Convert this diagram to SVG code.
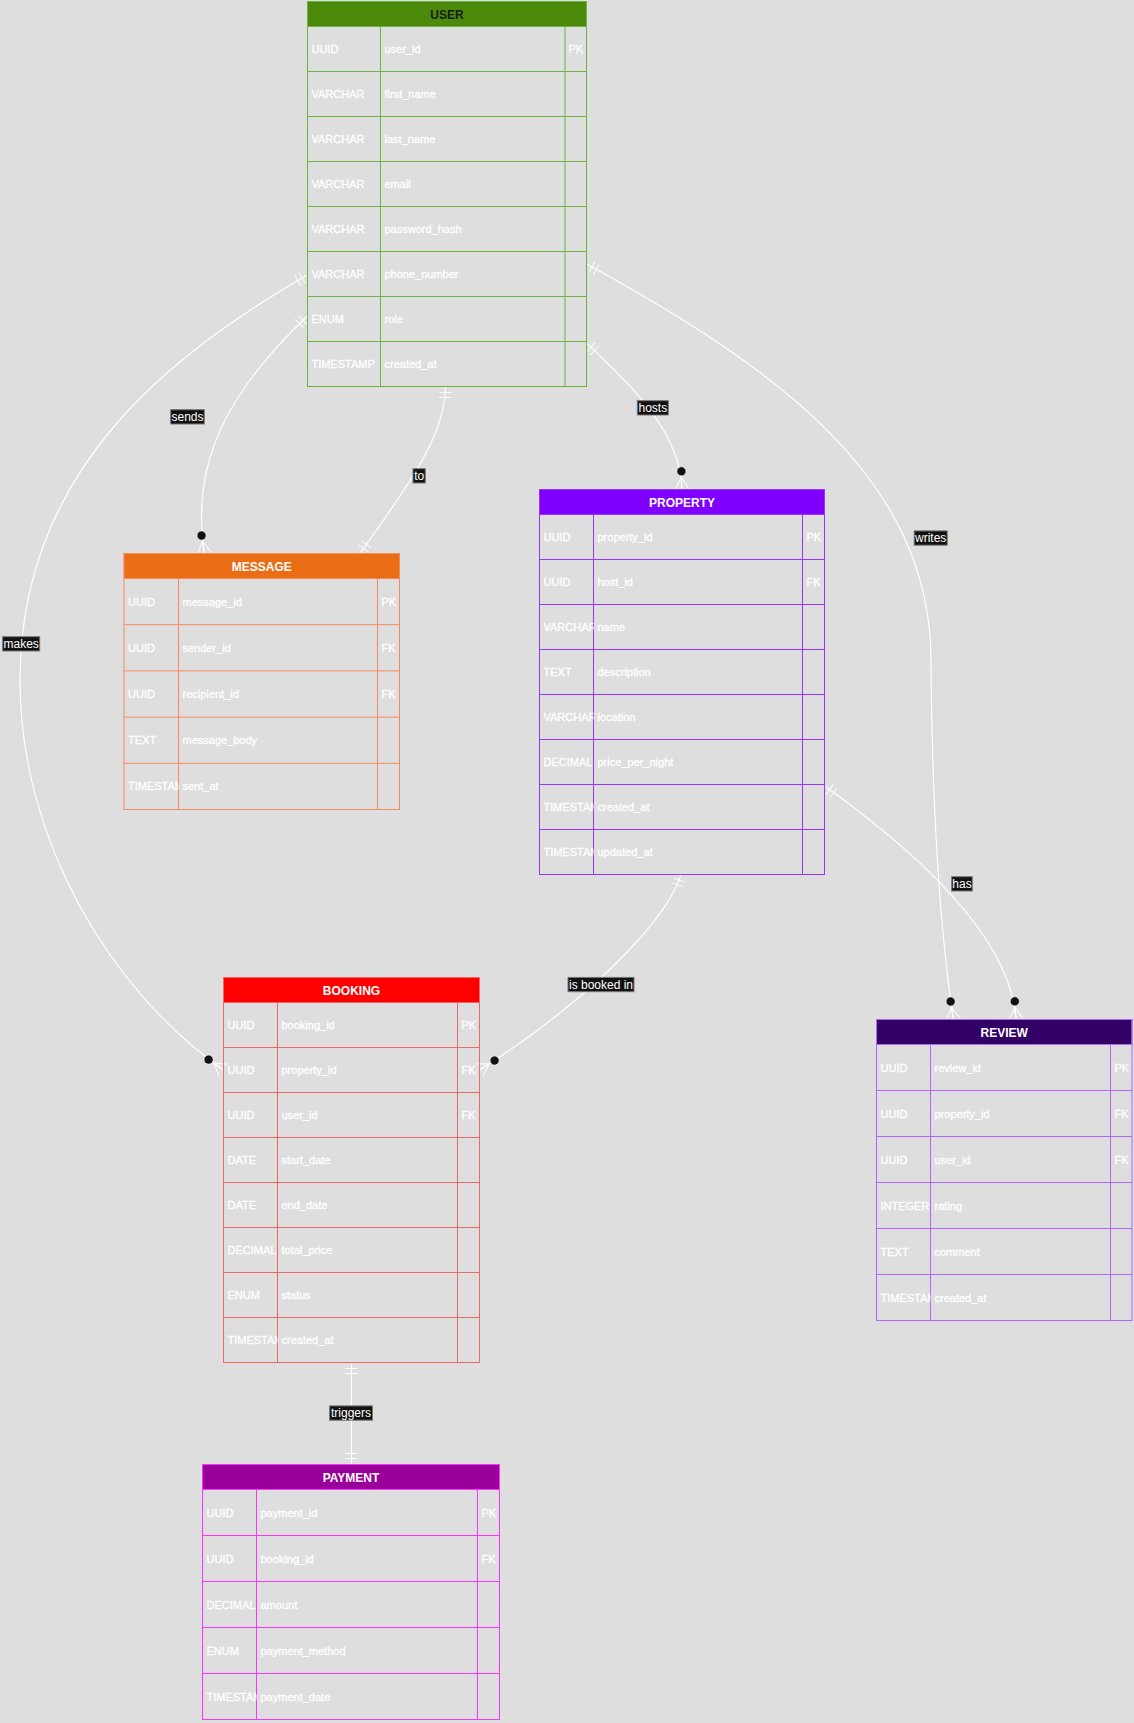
<svg xmlns="http://www.w3.org/2000/svg" width="1134" height="1723" viewBox="0 0 1134 1723">
<style>
.t{font-family:"Liberation Sans",Arial,sans-serif;font-size:11px;fill:#ffffff;stroke:#ffffff;stroke-width:0.3}
.h{font-family:"Liberation Sans",Arial,sans-serif;font-size:12px;font-weight:bold;fill:#ffffff;text-anchor:middle}
.lbl{font-family:"Liberation Sans",Arial,sans-serif;font-size:12px;fill:#ffffff;text-anchor:middle}
.lb{fill:#111111;stroke:#777777;stroke-width:1}
.edge{fill:none;stroke:#ffffff;stroke-width:1.2}
.box{fill:none;stroke-width:1}
</style>
<defs>
<marker id="one" viewBox="-20 -10 24 20" refX="0" refY="0" markerWidth="24" markerHeight="20" markerUnits="userSpaceOnUse" orient="auto-start-reverse" overflow="visible">
<path d="M-6,-6 L-6,6 M-11,-6 L-11,6" stroke="#ffffff" stroke-width="1" fill="none"/>
</marker>
<marker id="zm" viewBox="-26 -10 28 20" refX="0" refY="0" markerWidth="28" markerHeight="20" markerUnits="userSpaceOnUse" orient="auto" overflow="visible">
<circle cx="-18" cy="0" r="4.5" fill="#111111" stroke="#ffffff" stroke-width="0.5"/>
<path d="M-12,0 L0,-7 M-12,0 L0,0 M-12,0 L0,7" stroke="#ffffff" stroke-width="1" fill="none"/>
</marker>
<clipPath id="cU"><rect x="0" y="0" width="73" height="385"/></clipPath>
<clipPath id="cM"><rect x="0" y="0" width="54.5" height="256"/></clipPath>
<clipPath id="cP"><rect x="0" y="0" width="54" height="385"/></clipPath>
<clipPath id="cB"><rect x="0" y="0" width="54" height="385"/></clipPath>
<clipPath id="cR"><rect x="0" y="0" width="54" height="301"/></clipPath>
<clipPath id="cY"><rect x="0" y="0" width="54" height="255"/></clipPath>
</defs>
<rect x="0" y="0" width="1134" height="1723" fill="#dedede"/>

<g id="connectors">
<path id="e-makes" class="edge" d="M307.3,275 C170,355 20,470 20,680 C20,840 110,990 223.3,1070" marker-start="url(#one)" marker-end="url(#zm)"/>
<path id="e-sends" class="edge" d="M307.3,316 C230,390 190,460 204.3,553.3" marker-start="url(#one)" marker-end="url(#zm)"/>
<path id="e-to" class="edge" d="M445.5,386.5 C445,430 420,470 360,553.3" marker-start="url(#one)" marker-end="url(#one)"/>
<path id="e-hosts" class="edge" d="M586.7,343 C630,385 680,430 682,489.3" marker-start="url(#one)" marker-end="url(#zm)"/>
<path id="e-writes" class="edge" d="M586.7,264 C780,370 930,480 931,659 C932,800 940,930 953.3,1019.3" marker-start="url(#one)" marker-end="url(#zm)"/>
<path id="e-has" class="edge" d="M824.7,786 C900,840 1010,930 1016,1019.3" marker-start="url(#one)" marker-end="url(#zm)"/>
<path id="e-booked" class="edge" d="M681.3,874.5 C660,935 560,1020 479.3,1070" marker-start="url(#one)" marker-end="url(#zm)"/>
<path id="e-triggers" class="edge" d="M351.5,1362.5 L351.5,1464.5" marker-start="url(#one)" marker-end="url(#one)"/>
<g id="labels">
<rect class="lb" x="2.7" y="636.7" width="37" height="14.3"/><text class="lbl" x="21.2" y="648.2">makes</text>
<rect class="lb" x="170.7" y="409.7" width="33.6" height="14.3"/><text class="lbl" x="187.5" y="421.2">sends</text>
<rect class="lb" x="413" y="468.7" width="12.3" height="14.3"/><text class="lbl" x="419.2" y="480.2">to</text>
<rect class="lb" x="637.3" y="400.7" width="31" height="14.3"/><text class="lbl" x="652.8" y="412.2">hosts</text>
<rect class="lb" x="914.2" y="530.9" width="33" height="14.3"/><text class="lbl" x="930.7" y="542.4">writes</text>
<rect class="lb" x="951.7" y="876.7" width="20.6" height="14.3"/><text class="lbl" x="962" y="888.2">has</text>
<rect class="lb" x="568" y="977.4" width="66" height="14.3"/><text class="lbl" x="601" y="988.9">is booked in</text>
<rect class="lb" x="329.6" y="1405.9" width="42.9" height="14.3"/><text class="lbl" x="351" y="1417.4">triggers</text>
</g>
</g>

<g id="user" transform="translate(307.5,1.5)">
<rect x="0" y="0" width="279" height="25" fill="#4c8a0b" stroke="#6cb33e"/>
<text class="h" x="139.5" y="17" style="fill:#1a1a1a">USER</text>
<rect class="box" x="0" y="0" width="279" height="385" stroke="#6cb33e"/>
<path class="box" stroke="#6cb33e" d="M0,25H279M0,70H279M0,115H279M0,160H279M0,205H279M0,250H279M0,295H279M0,340H279M73,25V385M257.5,25V385"/>
<g clip-path="url(#cU)">
<text class="t" x="4" y="51.5">UUID</text><text class="t" x="4" y="96.5">VARCHAR</text><text class="t" x="4" y="141.5">VARCHAR</text><text class="t" x="4" y="186.5">VARCHAR</text><text class="t" x="4" y="231.5">VARCHAR</text><text class="t" x="4" y="276.5">VARCHAR</text><text class="t" x="4" y="321.5">ENUM</text><text class="t" x="4" y="366.5">TIMESTAMP</text>
</g>
<text class="t" x="77" y="51.5">user_id</text><text class="t" x="77" y="96.5">first_name</text><text class="t" x="77" y="141.5">last_name</text><text class="t" x="77" y="186.5">email</text><text class="t" x="77" y="231.5">password_hash</text><text class="t" x="77" y="276.5">phone_number</text><text class="t" x="77" y="321.5">role</text><text class="t" x="77" y="366.5">created_at</text>
<text class="t" x="261" y="51.5">PK</text>
</g>

<g id="message" transform="translate(124,553.5)">
<rect x="0" y="0" width="275.5" height="25" fill="#ea6c14" stroke="#f68a5c"/>
<text class="h" x="137.75" y="17">MESSAGE</text>
<rect class="box" x="0" y="0" width="275.5" height="256" stroke="#f68a5c"/>
<path class="box" stroke="#f68a5c" d="M0,25H275.5M0,71.2H275.5M0,117.4H275.5M0,163.6H275.5M0,209.8H275.5M54.5,25V256M253.5,25V256"/>
<g clip-path="url(#cM)">
<text class="t" x="4" y="52.1">UUID</text><text class="t" x="4" y="98.3">UUID</text><text class="t" x="4" y="144.5">UUID</text><text class="t" x="4" y="190.7">TEXT</text><text class="t" x="4" y="236.9">TIMESTAMP</text>
</g>
<text class="t" x="58.5" y="52.1">message_id</text><text class="t" x="58.5" y="98.3">sender_id</text><text class="t" x="58.5" y="144.5">recipient_id</text><text class="t" x="58.5" y="190.7">message_body</text><text class="t" x="58.5" y="236.9">sent_at</text>
<text class="t" x="257.5" y="52.1">PK</text><text class="t" x="257.5" y="98.3">FK</text><text class="t" x="257.5" y="144.5">FK</text>
</g>

<g id="property" transform="translate(539.5,489.5)">
<rect x="0" y="0" width="285" height="25" fill="#8000ff" stroke="#9933ff"/>
<text class="h" x="142.5" y="17">PROPERTY</text>
<rect class="box" x="0" y="0" width="285" height="385" stroke="#9933ff"/>
<path class="box" stroke="#9933ff" d="M0,25H285M0,70H285M0,115H285M0,160H285M0,205H285M0,250H285M0,295H285M0,340H285M54,25V385M263,25V385"/>
<g clip-path="url(#cP)">
<text class="t" x="4" y="51.5">UUID</text><text class="t" x="4" y="96.5">UUID</text><text class="t" x="4" y="141.5">VARCHAR</text><text class="t" x="4" y="186.5">TEXT</text><text class="t" x="4" y="231.5">VARCHAR</text><text class="t" x="4" y="276.5">DECIMAL</text><text class="t" x="4" y="321.5">TIMESTAMP</text><text class="t" x="4" y="366.5">TIMESTAMP</text>
</g>
<text class="t" x="58" y="51.5">property_id</text><text class="t" x="58" y="96.5">host_id</text><text class="t" x="58" y="141.5">name</text><text class="t" x="58" y="186.5">description</text><text class="t" x="58" y="231.5">location</text><text class="t" x="58" y="276.5">price_per_night</text><text class="t" x="58" y="321.5">created_at</text><text class="t" x="58" y="366.5">updated_at</text>
<text class="t" x="267" y="51.5">PK</text><text class="t" x="267" y="96.5">FK</text>
</g>

<g id="booking" transform="translate(223.5,977.5)">
<rect x="0" y="0" width="256" height="25" fill="#ff0000" stroke="#ee6666"/>
<text class="h" x="128" y="17">BOOKING</text>
<rect class="box" x="0" y="0" width="256" height="385" stroke="#ee6666"/>
<path class="box" stroke="#ee6666" d="M0,25H256M0,70H256M0,115H256M0,160H256M0,205H256M0,250H256M0,295H256M0,340H256M54,25V385M234,25V385"/>
<g clip-path="url(#cB)">
<text class="t" x="4" y="51.5">UUID</text><text class="t" x="4" y="96.5">UUID</text><text class="t" x="4" y="141.5">UUID</text><text class="t" x="4" y="186.5">DATE</text><text class="t" x="4" y="231.5">DATE</text><text class="t" x="4" y="276.5">DECIMAL</text><text class="t" x="4" y="321.5">ENUM</text><text class="t" x="4" y="366.5">TIMESTAMP</text>
</g>
<text class="t" x="58" y="51.5">booking_id</text><text class="t" x="58" y="96.5">property_id</text><text class="t" x="58" y="141.5">user_id</text><text class="t" x="58" y="186.5">start_date</text><text class="t" x="58" y="231.5">end_date</text><text class="t" x="58" y="276.5">total_price</text><text class="t" x="58" y="321.5">status</text><text class="t" x="58" y="366.5">created_at</text>
<text class="t" x="238" y="51.5">PK</text><text class="t" x="238" y="96.5">FK</text><text class="t" x="238" y="141.5">FK</text>
</g>

<g id="review" transform="translate(876.5,1019.5)">
<rect x="0" y="0" width="255.5" height="25" fill="#330066" stroke="#b266ff"/>
<text class="h" x="127.75" y="17">REVIEW</text>
<rect class="box" x="0" y="0" width="255.5" height="301" stroke="#b266ff"/>
<path class="box" stroke="#b266ff" d="M0,25H255.5M0,71H255.5M0,117H255.5M0,163H255.5M0,209H255.5M0,255H255.5M54,25V301M234,25V301"/>
<g clip-path="url(#cR)">
<text class="t" x="4" y="52">UUID</text><text class="t" x="4" y="98">UUID</text><text class="t" x="4" y="144">UUID</text><text class="t" x="4" y="190">INTEGER</text><text class="t" x="4" y="236">TEXT</text><text class="t" x="4" y="282">TIMESTAMP</text>
</g>
<text class="t" x="58" y="52">review_id</text><text class="t" x="58" y="98">property_id</text><text class="t" x="58" y="144">user_id</text><text class="t" x="58" y="190">rating</text><text class="t" x="58" y="236">comment</text><text class="t" x="58" y="282">created_at</text>
<text class="t" x="238" y="52">PK</text><text class="t" x="238" y="98">FK</text><text class="t" x="238" y="144">FK</text>
</g>

<g id="payment" transform="translate(202.5,1464.5)">
<rect x="0" y="0" width="297" height="25" fill="#990099" stroke="#ff33ff"/>
<text class="h" x="148.5" y="17">PAYMENT</text>
<rect class="box" x="0" y="0" width="297" height="255" stroke="#ff33ff"/>
<path class="box" stroke="#ff33ff" d="M0,25H297M0,71H297M0,117H297M0,163H297M0,209H297M54,25V255M275,25V255"/>
<g clip-path="url(#cY)">
<text class="t" x="4" y="52">UUID</text><text class="t" x="4" y="98">UUID</text><text class="t" x="4" y="144">DECIMAL</text><text class="t" x="4" y="190">ENUM</text><text class="t" x="4" y="236">TIMESTAMP</text>
</g>
<text class="t" x="58" y="52">payment_id</text><text class="t" x="58" y="98">booking_id</text><text class="t" x="58" y="144">amount</text><text class="t" x="58" y="190">payment_method</text><text class="t" x="58" y="236">payment_date</text>
<text class="t" x="279" y="52">PK</text><text class="t" x="279" y="98">FK</text>
</g>
</svg>
